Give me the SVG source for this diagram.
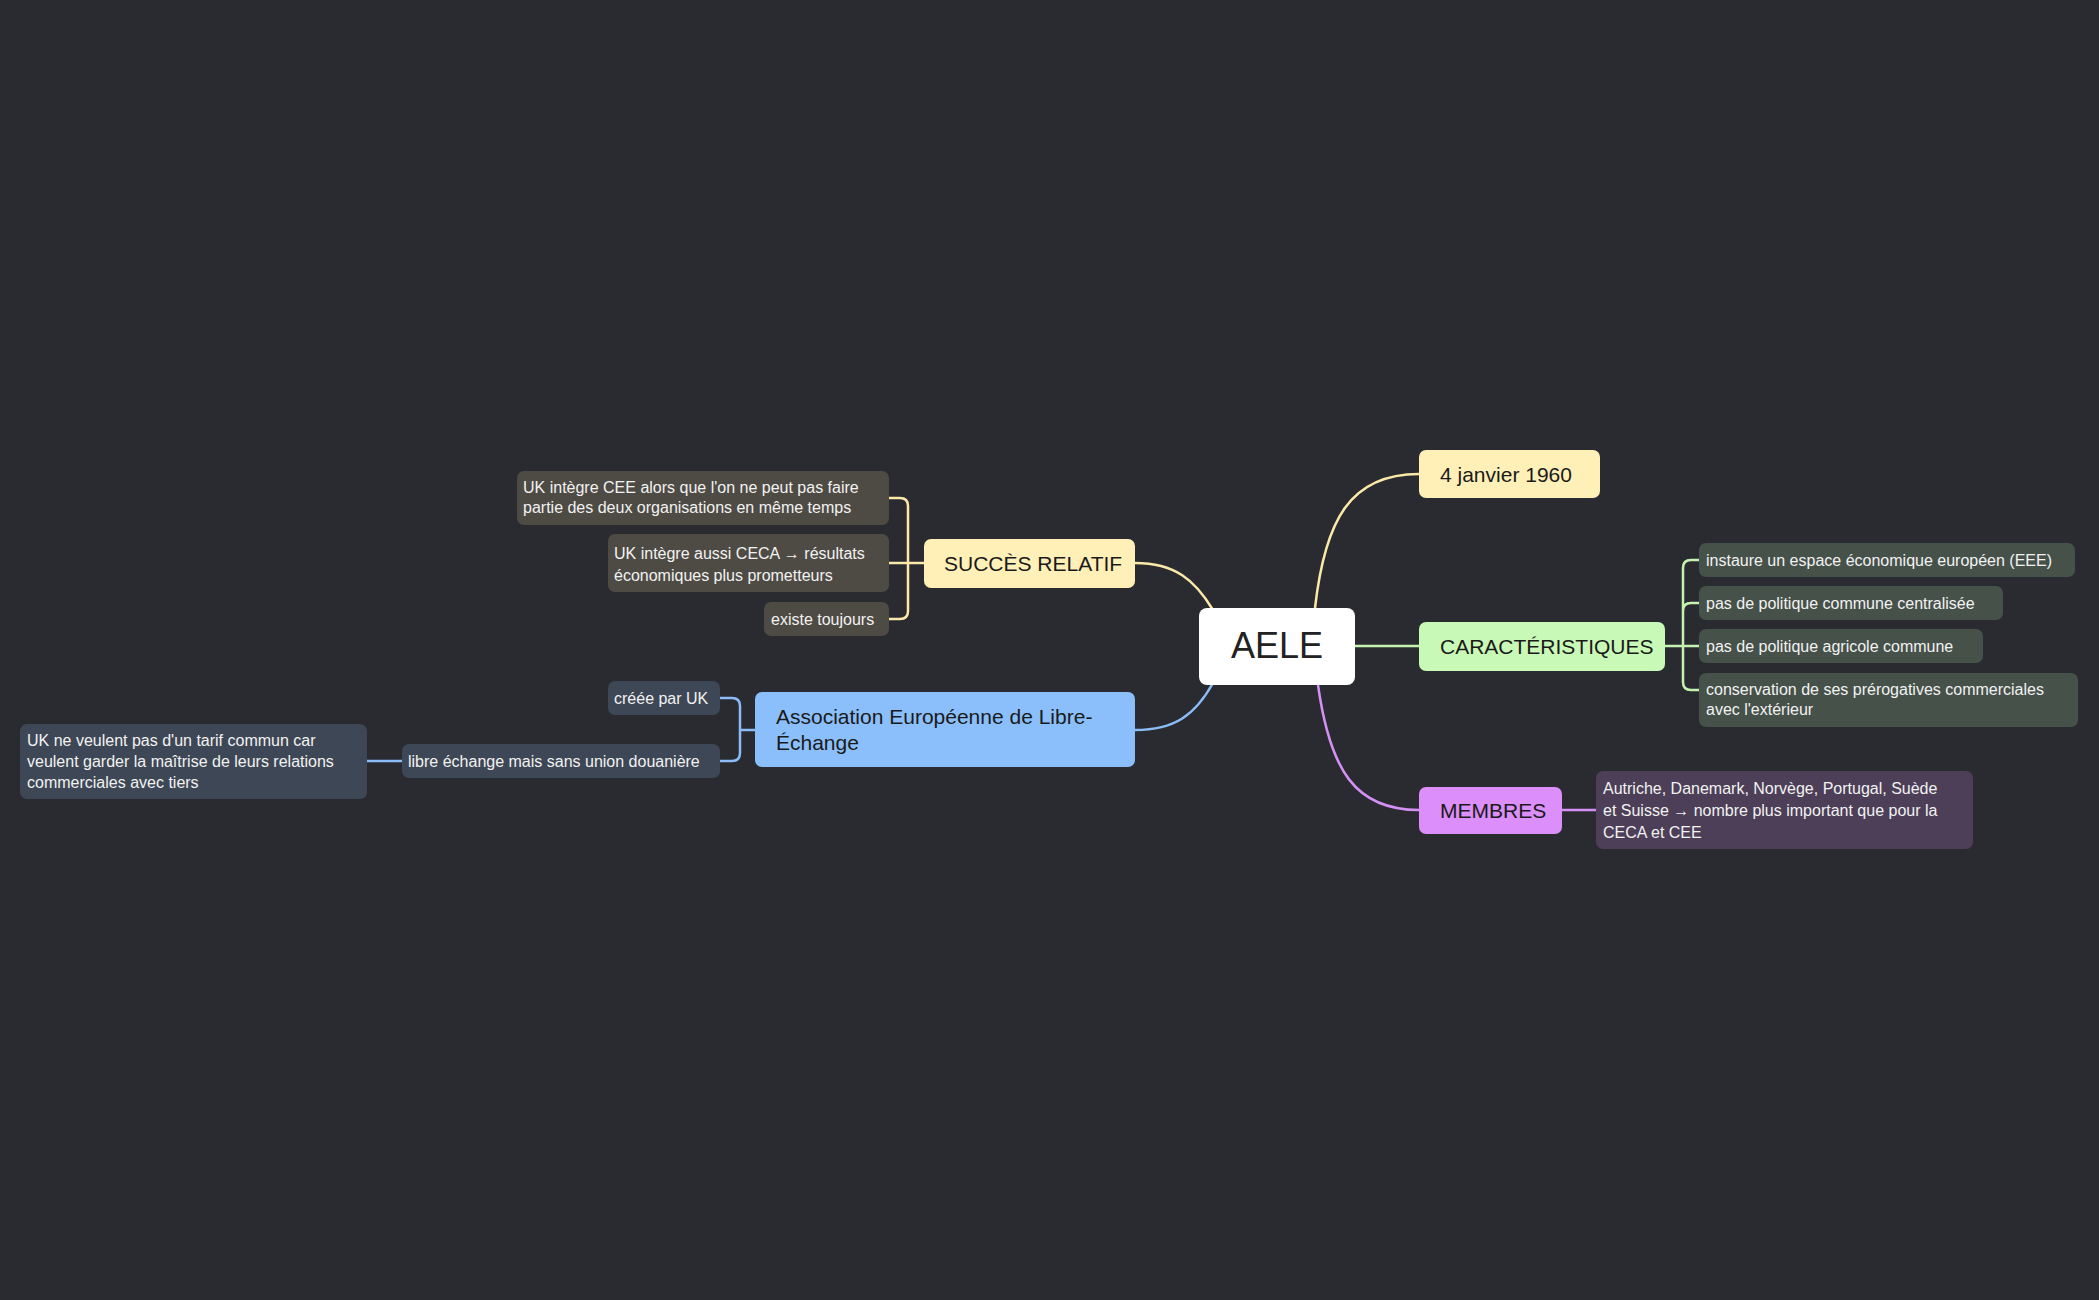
<svg xmlns="http://www.w3.org/2000/svg" width="2099" height="1300" viewBox="0 0 2099 1300">
<style>
text{font-family:"Liberation Sans",Arial,sans-serif}
.s{font-size:16px;fill:#f2f2f2}
.m{font-size:21px;fill:#1a1a1a}
.c{fill:none;stroke-width:2.5}
</style>
<rect width="2099" height="1300" fill="#2a2b30"/>
<g id="connectors">
<path class="c" stroke="#fbe9a8" d="M1315,608 C1325,520 1350,474 1419,474"/>
<path class="c" stroke="#c4f3b0" d="M1355,646 H1419"/>
<path class="c" stroke="#d590f5" d="M1318,685 C1330,770 1355,810 1419,810"/>
<path class="c" stroke="#fbe9a8" d="M1213,610 C1195,580 1175,563 1135,563"/>
<path class="c" stroke="#8bbcf8" d="M1213,683 C1195,715 1175,730 1135,730"/>
<path class="c" stroke="#fbe9a8" d="M924,563 H908 M889,498 H900 Q908,498 908,506 V611 Q908,619 900,619 H889 M889,563 H908"/>
<path class="c" stroke="#c4f3b0" d="M1665,646 H1683 M1699,560 H1691 Q1683,560 1683,568 V682 Q1683,690 1691,690 H1699 M1699,603 H1691 Q1683,603 1683,611 M1683,646 H1699"/>
<path class="c" stroke="#d590f5" d="M1562,810 H1596"/>
<path class="c" stroke="#8bbcf8" d="M755,730 H740 M720,698 H732 Q740,698 740,706 V753 Q740,761 732,761 H720 M367,761 H402"/>
</g>
<g id="aele"><rect x="1199" y="608" width="156" height="77" rx="8" fill="#ffffff"/><text x="1277" y="658" font-size="36" fill="#222" text-anchor="middle">AELE</text></g>
<g id="date"><rect x="1419" y="450" width="181" height="48" rx="7" fill="#fff0b8"/><text class="m" x="1440" y="482">4 janvier 1960</text></g>
<g id="carac"><rect x="1419" y="622" width="246" height="49" rx="7" fill="#c9f9b6"/><text class="m" x="1440" y="654">CARACTÉRISTIQUES</text></g>
<g id="membres"><rect x="1419" y="787" width="143" height="47" rx="7" fill="#dc8efa"/><text class="m" x="1440" y="818">MEMBRES</text></g>
<g id="succes"><rect x="924" y="539" width="211" height="49" rx="7" fill="#fff0b8"/><text class="m" x="944" y="571">SUCCÈS RELATIF</text></g>
<g id="assoc"><rect x="755" y="692" width="380" height="75" rx="7" fill="#8bbffc"/><text class="m" x="776" y="724">Association Européenne de Libre-</text><text class="m" x="776" y="750">Échange</text></g>
<g id="m1"><rect x="1596" y="771" width="377" height="78" rx="7" fill="#4c3f57"/><text class="s" x="1603" y="794">Autriche, Danemark, Norvège, Portugal, Suède</text><text class="s" x="1603" y="816">et Suisse → nombre plus important que pour la</text><text class="s" x="1603" y="838">CECA et CEE</text></g>
<g id="c1"><rect x="1699" y="543" width="376" height="34" rx="7" fill="#46514a"/><text class="s" x="1706" y="566">instaure un espace économique européen (EEE)</text></g>
<g id="c2"><rect x="1699" y="586" width="304" height="34" rx="7" fill="#46514a"/><text class="s" x="1706" y="609">pas de politique commune centralisée</text></g>
<g id="c3"><rect x="1699" y="629" width="284" height="34" rx="7" fill="#46514a"/><text class="s" x="1706" y="652">pas de politique agricole commune</text></g>
<g id="c4"><rect x="1699" y="673" width="379" height="54" rx="7" fill="#46514a"/><text class="s" x="1706" y="695">conservation de ses prérogatives commerciales</text><text class="s" x="1706" y="715">avec l'extérieur</text></g>
<g id="s1"><rect x="517" y="471" width="372" height="54" rx="7" fill="#4e4b44"/><text class="s" x="523" y="493">UK intègre CEE alors que l'on ne peut pas faire</text><text class="s" x="523" y="513">partie des deux organisations en même temps</text></g>
<g id="s2"><rect x="608" y="534" width="281" height="58" rx="7" fill="#4e4b44"/><text class="s" x="614" y="559">UK intègre aussi CECA → résultats</text><text class="s" x="614" y="581">économiques plus prometteurs</text></g>
<g id="s3"><rect x="764" y="602" width="125" height="34" rx="7" fill="#4e4b44"/><text class="s" x="771" y="625">existe toujours</text></g>
<g id="b1"><rect x="608" y="681" width="112" height="34" rx="7" fill="#3e4755"/><text class="s" x="614" y="704">créée par UK</text></g>
<g id="b2"><rect x="402" y="744" width="318" height="34" rx="7" fill="#3e4755"/><text class="s" x="408" y="767">libre échange mais sans union douanière</text></g>
<g id="b3"><rect x="20" y="724" width="347" height="75" rx="7" fill="#3e4755"/><text class="s" x="27" y="746">UK ne veulent pas d'un tarif commun car</text><text class="s" x="27" y="767">veulent garder la maîtrise de leurs relations</text><text class="s" x="27" y="788">commerciales avec tiers</text></g>
</svg>
